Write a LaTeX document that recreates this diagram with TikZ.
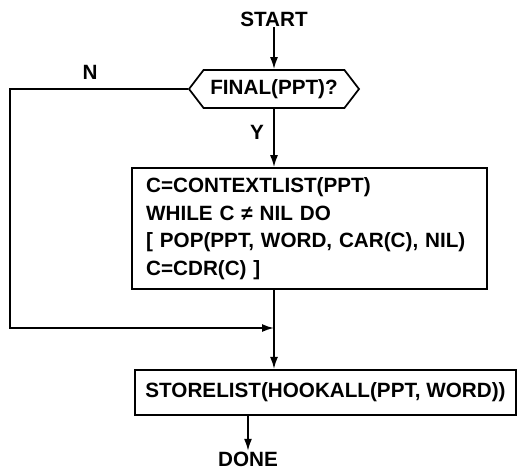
\documentclass[tikz,border=0pt]{standalone}
\usepackage{fontspec}
\setmainfont{Liberation Sans}
\usetikzlibrary{arrows.meta,shapes.symbols}
\begin{document}
\begin{tikzpicture}[x=0.75pt,y=-0.75pt,
  line width=1.3pt,
  every node/.style={font=\bfseries\fontsize{15.5}{20.6}\selectfont, inner sep=0pt},
  flow/.style={-{Latex[length=9pt,width=6pt]}},
  procbox/.style={draw, rectangle, line width=1.3pt},
  test/.style={draw, signal, signal to=west and east, signal pointer angle=105,
               minimum width=127.5pt, minimum height=28.5pt, line width=1.3pt}]
\useasboundingbox (0,0) rectangle (518,469);

% nodes
\node (start) at (274,19) {START};
\node[test] (hex) at (274,89) {FINAL(PPT)?};
\node (nlab) at (90,72) {N};
\node (ylab) at (257,132) {Y};
\node[procbox, text width=245pt, align=left, inner xsep=10.5pt,
      minimum height=90.75pt] (loop) at (309.5,228.5)
  {C=CONTEXTLIST(PPT)\\
   WHILE C ≠ NIL DO\\
   {[} POP(PPT, WORD, CAR(C), NIL)\\
   C=CDR(C) {]}};
\node[procbox, minimum width=286pt, minimum height=34pt] (store) at (325.5,392.5)
  {STORELIST(HOOKALL(PPT, WORD))};
\node (done) at (248,459) {DONE};

\coordinate (corner) at (10,328);
\coordinate (merge) at (274,328);

% connectors
\draw[flow] (start) -- (hex);
\draw[flow] (hex.south) -- (loop.north -| hex.south);
\draw[flow] (loop.south -| hex.south) -- (store.north -| hex.south);
\draw[flow] (hex.west) -| (corner) -- (merge);
\draw[flow] (store.south -| done) -- (done);
\end{tikzpicture}
\end{document}
